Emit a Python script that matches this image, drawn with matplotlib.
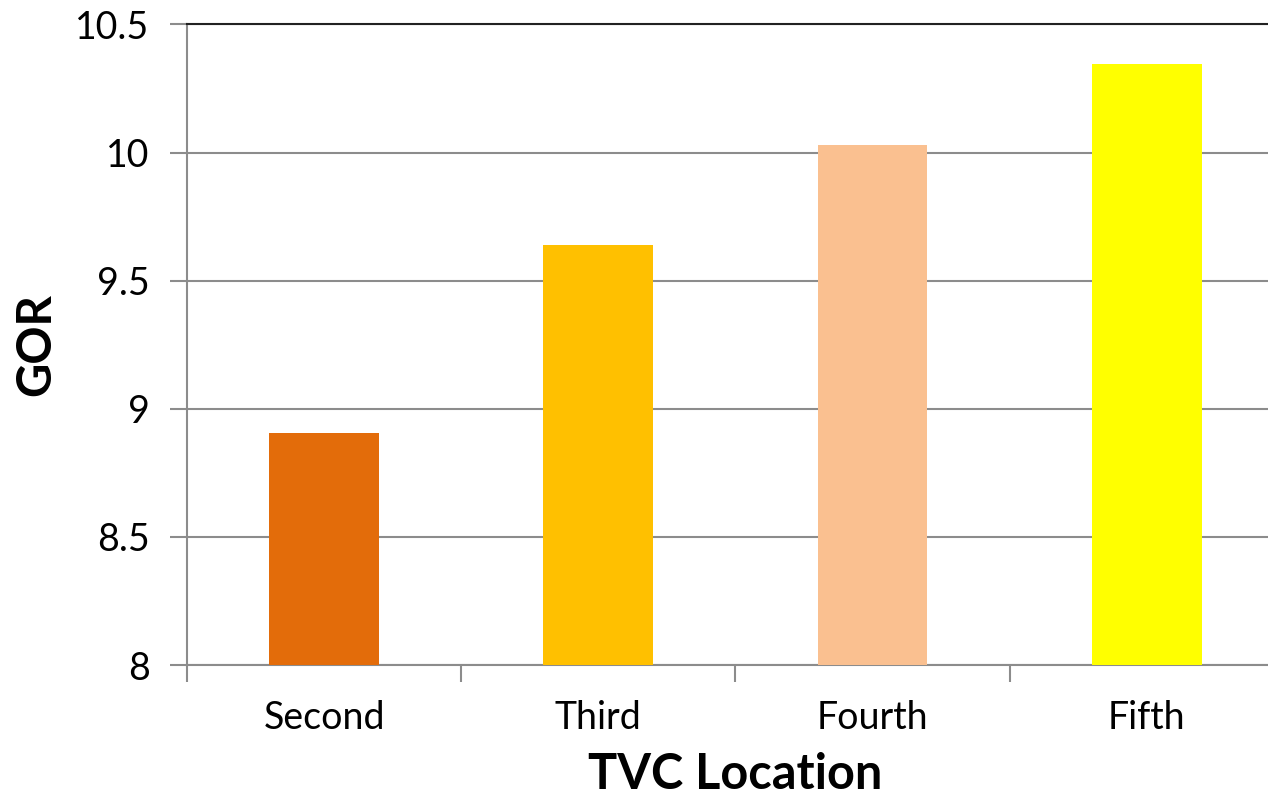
import matplotlib.pyplot as plt
from matplotlib.ticker import FixedLocator

categories = ["Second", "Third", "Fourth", "Fifth"]
gor_values = [8.905, 9.64, 10.03, 10.345]
bar_colors = ["#E36C0A", "#FFC000", "#FAC090", "#FFFF00"]
y_ticks = [8, 8.5, 9, 9.5, 10, 10.5]
y_tick_labels = ["8", "8.5", "9", "9.5", "10", "10.5"]

plt.rcParams["font.family"] = ["Lato", "DejaVu Sans"]

fig = plt.figure(figsize=(12.68, 7.95), dpi=100)
ax = fig.add_axes([0.1475, 0.1635, 0.865, 0.8057])

x = list(range(len(categories)))
ax.bar(x, gor_values, width=0.4, color=bar_colors, zorder=3)

ax.set_ylim(8, 10.5)
ax.set_xlim(-0.5, len(categories) - 0.5)
ax.set_yticks(y_ticks)
ax.set_yticklabels(y_tick_labels)
ax.grid(axis="y", color="#8c8c8c", linewidth=1.5, zorder=0)

ax.set_xticks(x)
ax.set_xticklabels(categories)
ax.xaxis.set_minor_locator(FixedLocator([i - 0.5 for i in range(len(categories) + 1)]))
ax.tick_params(axis="x", which="major", length=0, pad=25, labelsize=27)
ax.tick_params(axis="x", which="minor", length=12, width=1.5, color="#8c8c8c", direction="out")
ax.tick_params(axis="y", length=12, width=1.5, color="#8c8c8c", pad=15, labelsize=27)

for side in ["left", "bottom"]:
    ax.spines[side].set_color("#8c8c8c")
    ax.spines[side].set_linewidth(1.5)
ax.spines["right"].set_visible(False)
ax.spines["top"].set_color("#222222")
ax.spines["top"].set_linewidth(1.5)

ax.set_xlabel("TVC Location", fontsize=35, fontweight="bold", labelpad=12)
ax.set_ylabel("GOR", fontsize=34, fontweight="bold", labelpad=12)

fig.savefig("out.png", dpi=100)
